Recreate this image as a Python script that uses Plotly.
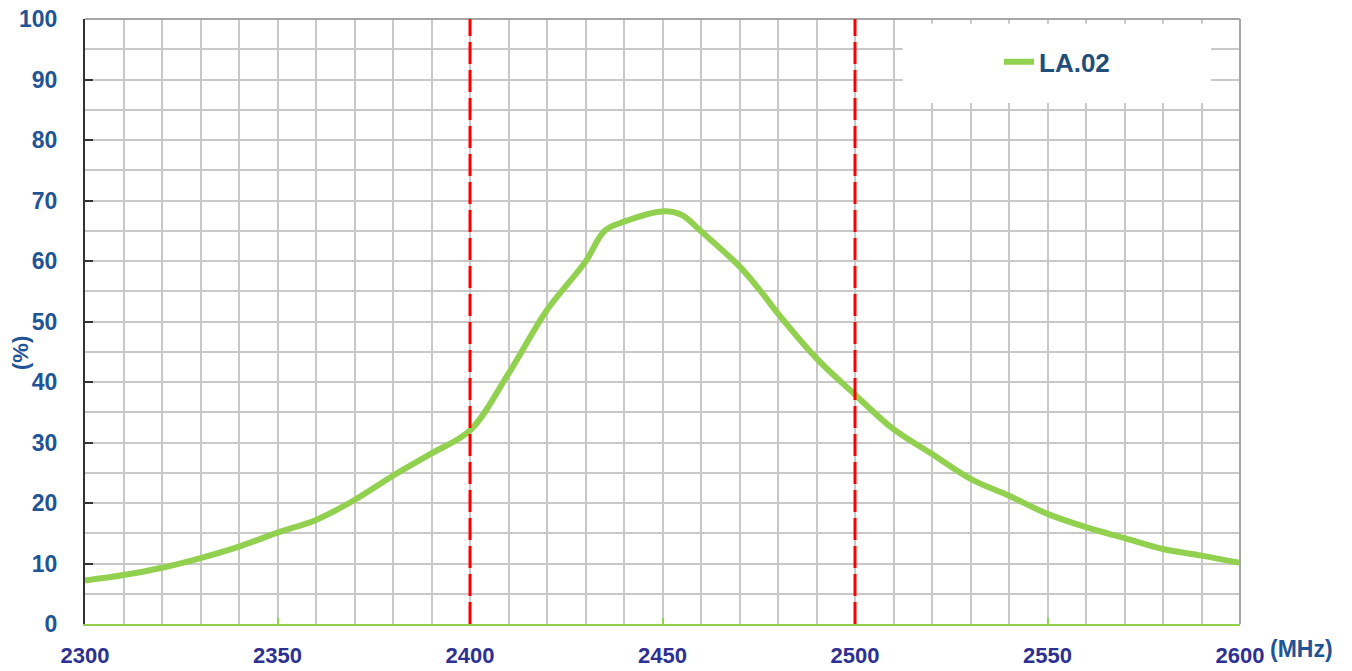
import plotly.graph_objects as go

# Data
freq_mhz = [2300, 2310, 2320, 2330, 2340, 2350, 2360, 2370, 2380, 2390, 2400,
            2410, 2420, 2430, 2435, 2440, 2450, 2455, 2460, 2470, 2476, 2480,
            2490, 2500, 2510, 2520, 2530, 2540, 2550, 2560, 2570, 2580, 2590, 2600]
efficiency = [7.2, 8.1, 9.3, 10.9, 12.8, 15.1, 17.2, 20.5, 24.5, 28.2, 32.0,
              41.4, 51.9, 59.9, 65.0, 66.5, 68.2, 67.6, 64.9, 59.1, 54.6, 51.3,
              43.9, 37.9, 32.2, 28.1, 24.0, 21.2, 18.2, 16.0, 14.2, 12.4, 11.3, 10.1]
band_edges = [2400, 2500]
series_name = "LA.02"
x_tick_vals = [2300, 2350, 2400, 2450, 2500, 2550, 2600]
y_tick_vals = [0, 10, 20, 30, 40, 50, 60, 70, 80, 90, 100]

FONT = "Liberation Sans, Arial, sans-serif"
GREEN = "#92D050"
GRID = "#C8C8C8"
YLAB = "#1F5496"
XLAB = "#2E3192"

fig = go.Figure()
fig.add_trace(go.Scatter(
    x=freq_mhz, y=efficiency, mode="lines", name=series_name,
    line=dict(color=GREEN, width=6, shape="spline", smoothing=1.0),
))

shapes = []
# legend backdrop box (white, covering grid)
shapes.append(dict(type="rect", xref="paper", yref="paper",
                   x0=0.708, x1=0.975, y0=0.861, y1=0.992,
                   fillcolor="white", line=dict(width=0), layer="above"))
# top and right borders
shapes.append(dict(type="line", xref="paper", yref="paper", x0=0, x1=1, y0=1, y1=1,
                   line=dict(color="#A6A6A6", width=2), layer="above"))
shapes.append(dict(type="line", xref="paper", yref="paper", x0=1, x1=1, y0=0, y1=1,
                   line=dict(color="#A6A6A6", width=2), layer="above"))
for e in band_edges:
    shapes.append(dict(type="line", xref="x", yref="y", x0=e, x1=e, y0=0, y1=100,
                       line=dict(color="#FF0000", width=3, dash="22px,6px"),
                       layer="above"))

fig.update_layout(
    width=1352, height=671,
    margin=dict(l=85, r=112, t=19, b=47, autoexpand=False),
    paper_bgcolor="white", plot_bgcolor="white",
    font=dict(family=FONT),
    showlegend=True,
    legend=dict(x=(999 - 85) / 1155, xanchor="left", y=0.929, yanchor="middle",
                bgcolor="rgba(0,0,0,0)", borderwidth=0,
                font=dict(family=FONT, size=26, color="#1F4E79", weight="bold")),
    shapes=shapes,
    xaxis=dict(
        range=[2300, 2600], tickvals=x_tick_vals, ticktext=[str(v) for v in x_tick_vals],
        showgrid=True, gridcolor=GRID, gridwidth=1.5,
        minor=dict(dtick=10, tick0=2300, showgrid=True, gridcolor=GRID, gridwidth=1.5),
        showline=True, linecolor=GREEN, linewidth=2,
        ticks="inside", ticklen=6, tickcolor=GREEN, tickwidth=2,
        ticklabelstandoff=11, automargin=False,
        tickfont=dict(family=FONT, size=22, color=XLAB, weight="bold"),
        zeroline=False,
    ),
    yaxis=dict(
        range=[0, 100], tickvals=y_tick_vals,
        showgrid=True, gridcolor=GRID, gridwidth=1.5,
        minor=dict(dtick=5, tick0=0, showgrid=True, gridcolor=GRID, gridwidth=1.5),
        showline=True, linecolor="#333333", linewidth=2,
        ticks="inside", ticklen=8, tickcolor="#333333", tickwidth=2,
        ticklabelstandoff=21, automargin=False,
        tickfont=dict(family=FONT, size=23, color=YLAB, weight="bold"),
        zeroline=False,
    ),
    annotations=[
        dict(text="(%)", xref="paper", yref="paper", x=(20 - 85) / 1155,
             y=(624 - 353) / 605, showarrow=False, textangle=-90,
             xanchor="center", yanchor="middle",
             font=dict(family=FONT, size=22, color=YLAB, weight="bold")),
        dict(text="(MHz)", xref="paper", yref="paper", x=(1301 - 85) / 1155,
             y=(624 - 649) / 605, showarrow=False, xanchor="center", yanchor="middle",
             font=dict(family=FONT, size=23, color=YLAB, weight="bold")),
    ],
)

fig.write_html("out.html", config={"displayModeBar": False},
               post_script="document.body.style.margin='0';document.body.style.overflow='hidden';")
